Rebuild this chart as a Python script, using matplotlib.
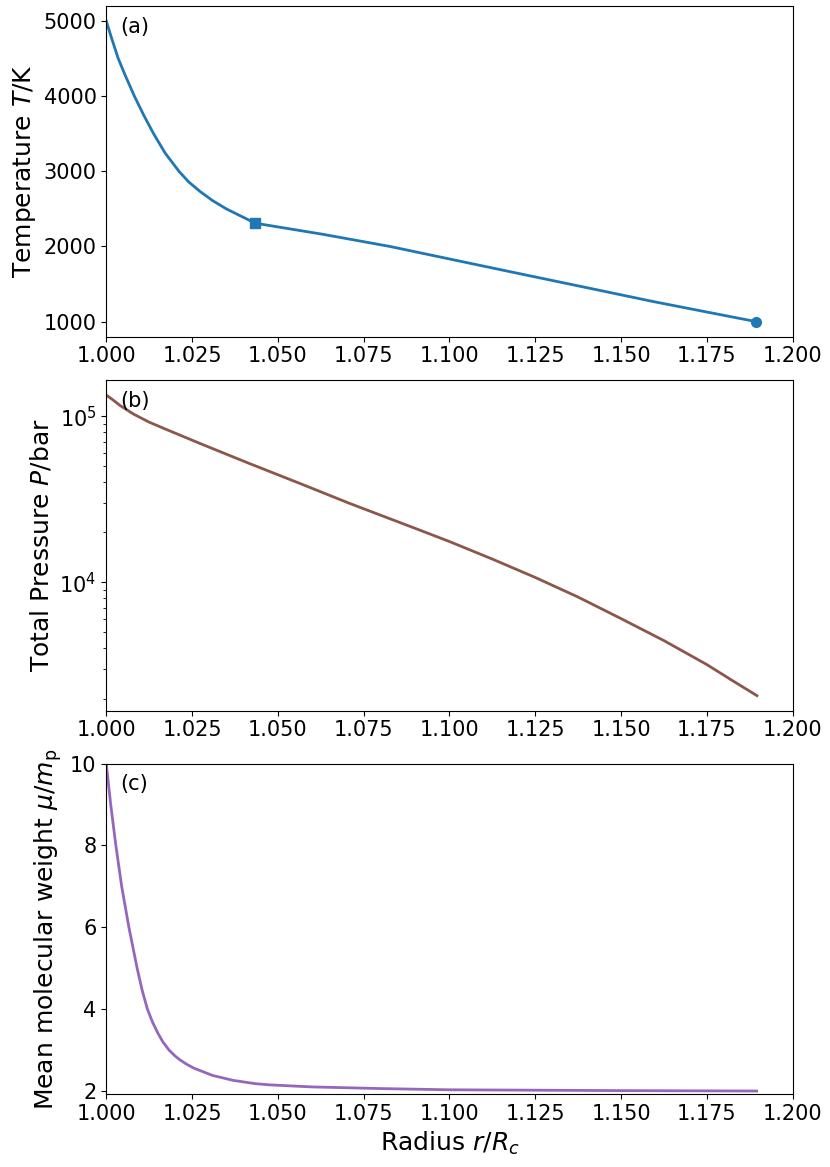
import matplotlib
matplotlib.use('Agg')
import matplotlib.pyplot as plt

# (a) temperature profile
r_temp = [1.000, 1.0015, 1.0035, 1.0055, 1.0082, 1.011, 1.0138, 1.0172, 1.0212, 1.0240,
          1.0273, 1.031, 1.035, 1.0434, 1.063, 1.0827, 1.103, 1.1235, 1.1415, 1.1594,
          1.175, 1.1894]
temp = [5000, 4780, 4500, 4280, 4000, 3740, 3500, 3240, 3000, 2860,
        2733, 2610, 2500, 2310, 2163, 2000, 1805, 1609, 1438, 1267,
        1128, 1000]
r_break, t_break = 1.0434, 2310
r_surf, t_surf = 1.1894, 1000

# (b) total pressure
r_pres = [1.000, 1.002, 1.004, 1.0079, 1.0125, 1.0176, 1.0273, 1.037, 1.0419, 1.0565,
          1.071, 1.0914, 1.100, 1.1125, 1.125, 1.1375, 1.150, 1.1625, 1.175, 1.1825,
          1.1896]
pres = [1.34e5, 1.25e5, 1.16e5, 1.03e5, 9.2e4, 8.3e4, 6.85e4, 5.68e4, 5.17e4, 3.93e4,
        2.98e4, 2.06e4, 1.76e4, 1.38e4, 1.07e4, 8.15e3, 6.05e3, 4.46e3, 3.2e3, 2.56e3,
        2.08e3]

# (c) mean molecular weight
r_mu = [1.000, 1.0013, 1.0028, 1.0045, 1.0066, 1.0090, 1.0105, 1.0120, 1.0135, 1.0150,
        1.0165, 1.0183, 1.0200, 1.0215, 1.0235, 1.0255, 1.031, 1.037, 1.0434, 1.0477,
        1.060, 1.080, 1.100, 1.150, 1.1895]
mu = [10.0, 9.0, 8.0, 7.0, 6.0, 5.0, 4.45, 4.0, 3.68, 3.42,
      3.2, 3.0, 2.86, 2.76, 2.65, 2.56, 2.38, 2.26, 2.18, 2.15,
      2.10, 2.06, 2.03, 2.01, 2.00]

plt.rcParams['font.size'] = 15

fig = plt.figure(figsize=(8.3, 11.67), dpi=100)
left, width, h = 0.128, 0.827, 0.2834
ax1 = fig.add_axes([left, 0.7115, width, h])
ax2 = fig.add_axes([left, 0.3910, width, h])
ax3 = fig.add_axes([left, 0.0623, width, h])

ax1.plot(r_temp, temp, color='tab:blue', lw=2)
ax1.plot([r_break], [t_break], 's', color='tab:blue', ms=7)
ax1.plot([r_surf], [t_surf], 'o', color='tab:blue', ms=7)
ax1.set_ylabel('Temperature $T$/K', fontsize=18)

ax2.plot(r_pres, pres, color='tab:brown', lw=2)
ax2.set_yscale('log')
ax2.set_ylabel('Total Pressure $P$/bar', fontsize=18)

ax3.plot(r_mu, mu, color='tab:purple', lw=2)
ax3.set_ylim(1.92, 10)
ax3.set_ylabel(r'Mean molecular weight $\mu/m_\mathrm{p}$', fontsize=18)
ax3.set_xlabel('Radius $r/R_c$', fontsize=18)

for ax, lab in zip([ax1, ax2, ax3], ['(a)', '(b)', '(c)']):
    ax.set_xlim(1.0, 1.2)
    ax.text(0.02, 0.967, lab, transform=ax.transAxes, ha='left', va='top')

fig.savefig('out.png', dpi=100)
